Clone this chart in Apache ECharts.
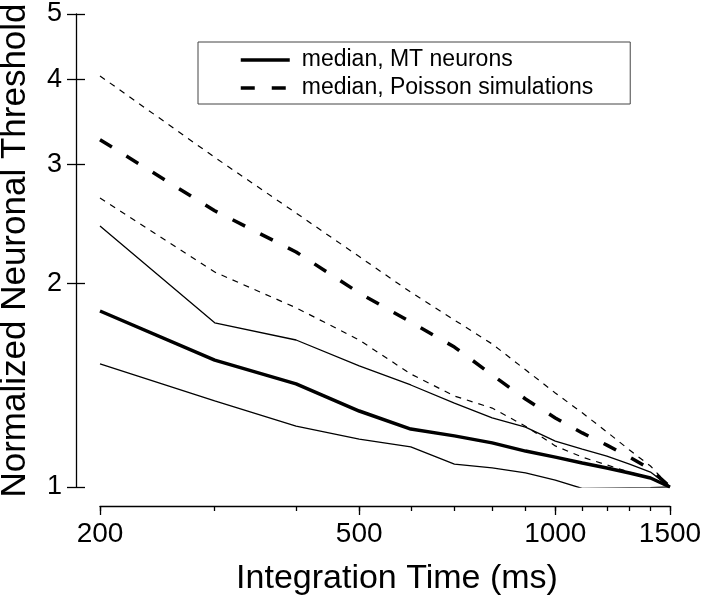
<!DOCTYPE html>
<html>
<head>
<meta charset="utf-8">
<script src="https://cdn.jsdelivr.net/npm/echarts@6/dist/echarts.min.js"></script>
<style>
html,body{margin:0;padding:0;background:#fff;}
#chart{width:720px;height:602px;}
</style>
</head>
<body>
<div id="chart"></div>
<script>
// Integration times (ms)
const integrationTimes = [200, 300, 400, 500, 600, 700, 800, 900, 1000, 1100, 1200, 1300, 1400, 1500];
// MT neurons
const mtMedian = [1.82, 1.54, 1.42, 1.295, 1.218, 1.19, 1.162, 1.13, 1.107, 1.085, 1.067, 1.049, 1.031, 1.0];
const mtLower  = [1.52, 1.34, 1.23, 1.177, 1.146, 1.081, 1.067, 1.049, 1.024, 0.995, 0.996, 0.997, 0.998, 1.0];
const mtUpper  = [2.43, 1.748, 1.649, 1.51, 1.415, 1.33, 1.265, 1.226, 1.169, 1.138, 1.111, 1.081, 1.052, 1.0];
// Poisson simulations
const poissonMedian = [3.26, 2.56, 2.225, 1.935, 1.753, 1.61, 1.464, 1.349, 1.265, 1.202, 1.153, 1.107, 1.063, 1.0];
const poissonLower  = [2.674, 2.078, 1.84, 1.649, 1.469, 1.363, 1.308, 1.23, 1.15, 1.107, 1.078, 1.052, 1.031, 1.0];
const poissonUpper  = [4.05, 3.07, 2.54, 2.19, 1.94, 1.765, 1.627, 1.49, 1.377, 1.287, 1.206, 1.134, 1.074, 1.0];
// Tick labels
const xMajorTicks = [200, 500, 1000, 1500];
const xMinorTicks = [200, 300, 400, 500, 600, 700, 800, 900, 1000, 1100, 1200, 1300, 1400, 1500];
const yTicks = [1, 2, 3, 4, 5];

const FONT = '"Liberation Sans", Arial, Helvetica, sans-serif';
const pairs = ys => integrationTimes.map((x, i) => [x, ys[i]]);
const plain = v => String(Math.round(v));

const chart = echarts.init(document.getElementById('chart'), null, {renderer: 'canvas'});

const baseX = {
  type: 'log', logBase: 10, min: 200, max: 1500, position: 'bottom', offset: 19,
  splitLine: {show: false}, minorTick: {show: false}, minorSplitLine: {show: false}
};
const baseY = {
  type: 'log', logBase: 10, min: 1, max: 5, position: 'left', offset: 24,
  splitLine: {show: false}, minorTick: {show: false}, minorSplitLine: {show: false}
};

chart.setOption({
  animation: false,
  backgroundColor: '#fff',
  grid: {left: 100, right: 50, top: 14, bottom: 115, containLabel: false, outerBoundsMode: 'none'},
  legend: {
    data: ['median, MT neurons', 'median, Poisson simulations'],
    orient: 'vertical',
    left: 198, top: 42,
    padding: [6, 37, 4, 41],
    itemWidth: 49, itemHeight: 14, itemGap: 4,
    borderColor: '#444', borderWidth: 1,
    itemStyle: {opacity: 0},
    lineStyle: {width: 3.5},
    textStyle: {fontFamily: FONT, fontSize: 23, color: '#000', lineHeight: 24, padding: [0, 0, 0, 7]}
  },
  xAxis: [
    Object.assign({}, baseX, {
      name: 'Integration Time (ms)', nameLocation: 'middle', nameGap: 56,
      nameTextStyle: {fontFamily: FONT, fontSize: 34, color: '#000', padding: [0, 0, 0, 24]},
      axisLine: {show: true, lineStyle: {color: '#000', width: 1.3}},
      axisTick: {show: true, inside: false, length: 9, lineStyle: {color: '#000', width: 1.3}, customValues: xMajorTicks},
      axisLabel: {show: true, margin: 14, fontFamily: FONT, fontSize: 28, color: '#000', customValues: xMajorTicks,
                  formatter: plain, showMinLabel: true, showMaxLabel: true, hideOverlap: false}
    }),
    Object.assign({}, baseX, {
      axisLine: {show: false},
      axisTick: {show: true, inside: false, length: 5, lineStyle: {color: '#000', width: 1.3}, customValues: xMinorTicks},
      axisLabel: {show: false}
    })
  ],
  yAxis: [
    Object.assign({}, baseY, {
      name: 'Normalized Neuronal Threshold', nameLocation: 'middle', nameGap: 43,
      nameTextStyle: {fontFamily: FONT, fontSize: 35, color: '#000'},
      axisLine: {show: true, lineStyle: {color: '#000', width: 1.3}},
      axisTick: {show: true, inside: false, length: 9, lineStyle: {color: '#000', width: 1.3}, customValues: yTicks},
      axisLabel: {show: true, margin: 14, fontFamily: FONT, fontSize: 27, color: '#000', customValues: yTicks,
                  formatter: plain, showMinLabel: true, showMaxLabel: true}
    }),
    Object.assign({}, baseY, {
      axisLine: {show: false},
      axisTick: {show: true, inside: true, length: 9, lineStyle: {color: '#000', width: 1.3}, customValues: yTicks},
      axisLabel: {show: false}
    })
  ],
  series: [
    {name: 'MT upper', type: 'line', data: pairs(mtUpper), symbol: 'none', silent: true,
     lineStyle: {color: '#000', width: 1.3, type: 'solid'}},
    {name: 'MT lower', type: 'line', data: pairs(mtLower), symbol: 'none', silent: true,
     lineStyle: {color: '#000', width: 1.3, type: 'solid'}},
    {name: 'Poisson upper', type: 'line', data: pairs(poissonUpper), symbol: 'none', silent: true,
     lineStyle: {color: '#000', width: 1.2, type: [6, 6]}},
    {name: 'Poisson lower', type: 'line', data: pairs(poissonLower), symbol: 'none', silent: true,
     lineStyle: {color: '#000', width: 1.2, type: [6, 6]}},
    {name: 'median, MT neurons', type: 'line', data: pairs(mtMedian), symbol: 'none',
     itemStyle: {color: '#000'},
     lineStyle: {color: '#000', width: 3.5, type: 'solid'}},
    {name: 'median, Poisson simulations', type: 'line', data: pairs(poissonMedian), symbol: 'none',
     itemStyle: {color: '#000'},
     lineStyle: {color: '#000', width: 3.5, type: [14, 17]}}
  ]
});
</script>
</body>
</html>
